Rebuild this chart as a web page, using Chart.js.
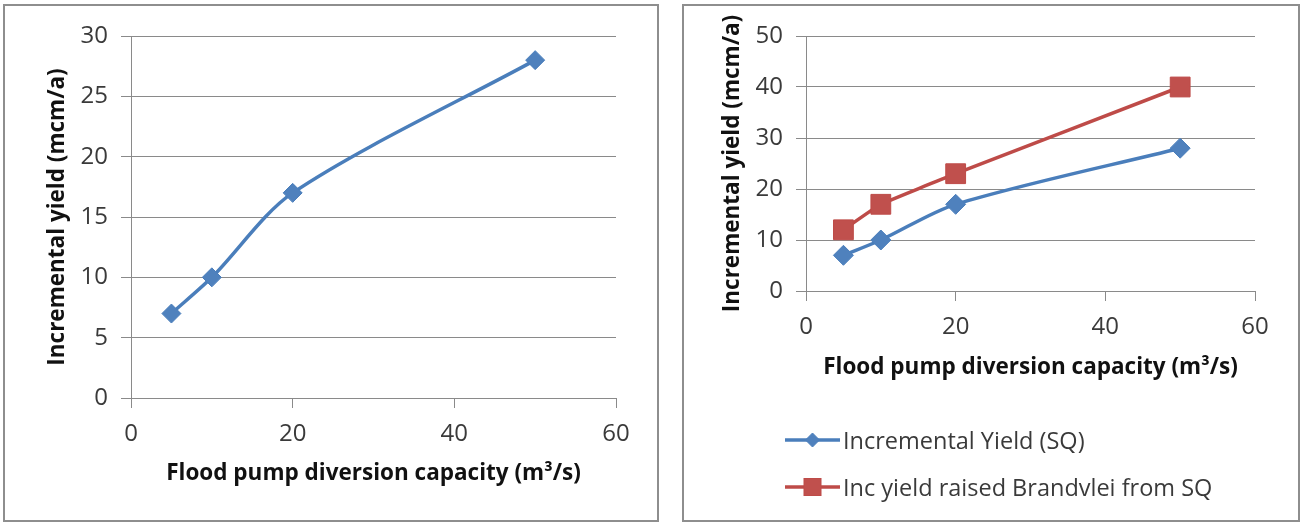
<!DOCTYPE html>
<html>
<head>
<meta charset="utf-8">
<script src="https://cdn.jsdelivr.net/npm/chart.js@4"></script>
<style>
  html, body { margin: 0; padding: 0; background: #ffffff; width: 1301px; height: 522px; overflow: hidden; }
  .box { position: absolute; border: 2px solid #8e8e8e; box-sizing: border-box; pointer-events: none; }
  canvas { position: absolute; }
  .legend { position: absolute; font-family: 'Open Sans', sans-serif; font-size: 23.5px; color: #3a3a3a; }
  .row { position: absolute; left: 0; height: 30px; display: flex; align-items: center; white-space: nowrap; }
  .row svg { display: block; margin-right: 3px; }
</style>
</head>
<body>
<div class="box" style="left:3px; top:4px; width:656px; height:518px;"></div>
<div class="box" style="left:682px; top:4px; width:618px; height:518px;"></div>
<canvas id="c1" width="652" height="514" style="left:5px; top:6px;"></canvas>
<canvas id="c2" width="614" height="514" style="left:684px; top:6px;"></canvas>
<div class="legend" id="legend" style="left:785px; top:0px;"></div>
<script>
// ---- data ----
const capacity = [5, 10, 20, 50];
const yieldSQ = [7, 10, 17, 28];
const yieldRaised = [12, 17, 23, 40];
const xTitle = 'Flood pump diversion capacity (m\u00B3/s)';
const yTitle = 'Incremental yield (mcm/a)';
const seriesNames = ['Incremental Yield (SQ)', 'Inc yield raised Brandvlei from SQ'];
const xRange = [0, 60], xStep = 20;
const yRangeLeft = [0, 30], yStepLeft = 5;
const yRangeRight = [0, 50], yStepRight = 10;

const FONT = "'Open Sans', sans-serif";
const BLUE_LINE = '#4A7EBB', BLUE_FILL = '#4F81BD';
const RED_LINE = '#BE4B48', RED_FILL = '#C0504D';
const GRID = '#8a8a8a';
const TICK_COLOR = '#3a3a3a';

function pts(xs, ys) { return xs.map((x, i) => ({ x: x, y: ys[i] })); }

function makeScales(yRange, yStep, xHeight, yWidth, xTitlePadB, yTitlePadT) {
  return {
    x: {
      type: 'linear', min: xRange[0], max: xRange[1],
      afterFit: s => { s.height = xHeight; },
      ticks: { stepSize: xStep, color: TICK_COLOR, font: { family: FONT, size: 24 }, padding: 11.5, maxRotation: 0 },
      grid: { drawOnChartArea: false, drawTicks: true, tickLength: 10, color: GRID, lineWidth: 1 },
      border: { display: true, color: GRID, width: 1 },
      title: { display: true, text: xTitle, color: '#111', font: { family: FONT, size: 22.5, weight: 'bold' }, padding: { top: 0, bottom: xTitlePadB } }
    },
    y: {
      type: 'linear', min: yRange[0], max: yRange[1],
      afterFit: s => { s.width = yWidth; },
      ticks: { stepSize: yStep, color: TICK_COLOR, font: { family: FONT, size: 24 }, padding: 13 },
      grid: { drawOnChartArea: true, drawTicks: true, tickLength: 10, color: GRID, lineWidth: 1 },
      border: { display: true, color: GRID, width: 1 },
      title: { display: true, text: yTitle, color: '#111', font: { family: FONT, size: 22.5, weight: 'bold' }, padding: { top: yTitlePadT, bottom: 0 } }
    }
  };
}

const commonPlugins = { legend: { display: false }, tooltip: { enabled: false } };

new Chart(document.getElementById('c1'), {
  type: 'line',
  data: {
    datasets: [{
      label: seriesNames[0],
      data: pts(capacity, yieldSQ),
      borderColor: BLUE_LINE, borderWidth: 3.5,
      backgroundColor: BLUE_FILL,
      pointStyle: 'rectRot', pointRadius: 9.5,
      pointBackgroundColor: BLUE_FILL, pointBorderColor: BLUE_LINE, pointBorderWidth: 1,
      tension: 0.3, fill: false
    }]
  },
  options: {
    responsive: false, animation: false,
    layout: { padding: { left: 20, top: 30, right: 41, bottom: 22 } },
    plugins: commonPlugins,
    scales: makeScales(yRangeLeft, yStepLeft, 100, 106, 10.5, 19.5)
  }
});

new Chart(document.getElementById('c2'), {
  type: 'line',
  data: {
    datasets: [{
      label: seriesNames[0],
      data: pts(capacity, yieldSQ),
      borderColor: BLUE_LINE, borderWidth: 3.5,
      backgroundColor: BLUE_FILL,
      pointStyle: 'rectRot', pointRadius: 10,
      pointBackgroundColor: BLUE_FILL, pointBorderColor: BLUE_LINE, pointBorderWidth: 1,
      tension: 0.3, fill: false
    }, {
      label: seriesNames[1],
      data: pts(capacity, yieldRaised),
      borderColor: RED_LINE, borderWidth: 3.5,
      backgroundColor: RED_FILL,
      pointStyle: 'rect', pointRadius: 14,
      pointBackgroundColor: RED_FILL, pointBorderColor: RED_LINE, pointBorderWidth: 1,
      tension: 0.1, fill: false
    }]
  },
  options: {
    responsive: false, animation: false,
    layout: { padding: { left: 15, top: 30, right: 43, bottom: 138 } },
    plugins: commonPlugins,
    scales: makeScales(yRangeRight, yStepRight, 91, 107, 0.5, 20.5)
  }
});

// HTML legend (symbols built from dataset styles)
const legendEl = document.getElementById('legend');
const legendItems = [
  { name: seriesNames[0], line: BLUE_LINE, fill: BLUE_FILL, shape: 'diamond', cy: 440 },
  { name: seriesNames[1], line: RED_LINE, fill: RED_FILL, shape: 'square', cy: 487 }
];
legendItems.forEach(it => {
  const row = document.createElement('div');
  row.className = 'row';
  row.style.top = (it.cy - 15) + 'px';
  const ns = 'http://www.w3.org/2000/svg';
  const svg = document.createElementNS(ns, 'svg');
  svg.setAttribute('width', '55'); svg.setAttribute('height', '30');
  const ln = document.createElementNS(ns, 'line');
  ln.setAttribute('x1', '0'); ln.setAttribute('x2', '55'); ln.setAttribute('y1', '15'); ln.setAttribute('y2', '15');
  ln.setAttribute('stroke', it.line); ln.setAttribute('stroke-width', '3.5');
  svg.appendChild(ln);
  let mk;
  if (it.shape === 'diamond') {
    mk = document.createElementNS(ns, 'polygon');
    mk.setAttribute('points', '27.5,8 34.5,15 27.5,22 20.5,15');
  } else {
    mk = document.createElementNS(ns, 'rect');
    mk.setAttribute('x', '19'); mk.setAttribute('y', '6.5'); mk.setAttribute('width', '17'); mk.setAttribute('height', '17');
  }
  mk.setAttribute('fill', it.fill); mk.setAttribute('stroke', it.line); mk.setAttribute('stroke-width', '1');
  svg.appendChild(mk);
  const txt = document.createElement('span');
  txt.textContent = it.name;
  row.appendChild(svg); row.appendChild(txt);
  legendEl.appendChild(row);
});
</script>
</body>
</html>
